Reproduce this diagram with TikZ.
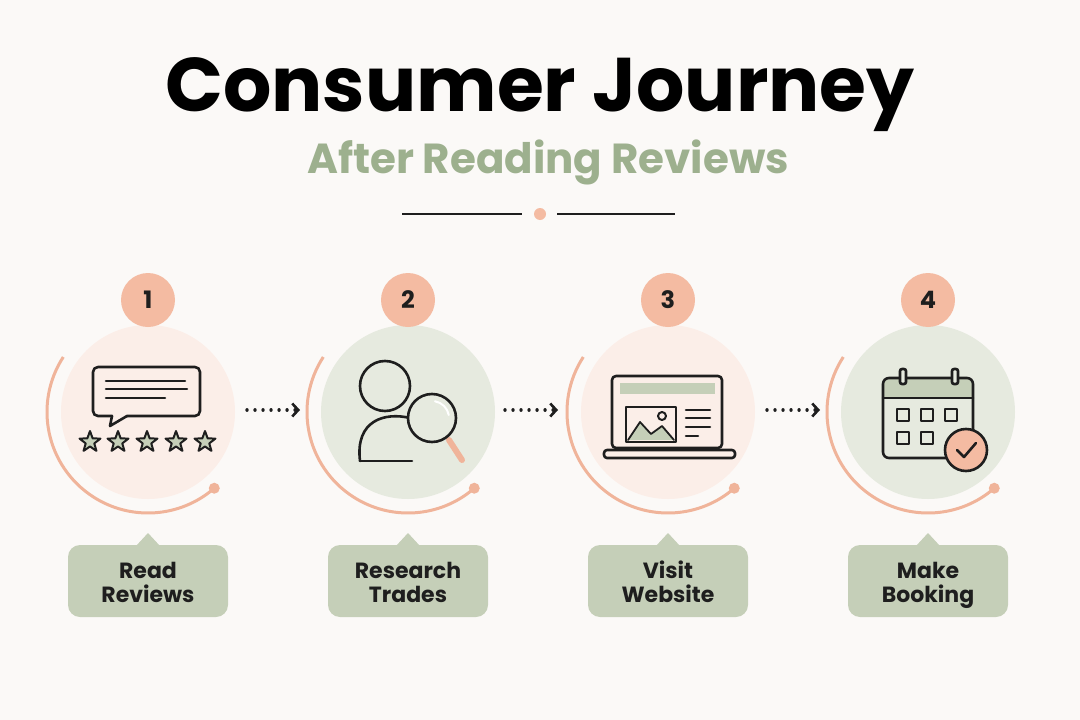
\documentclass[tikz,border=0pt]{standalone}
\usepackage{fontspec}
\setmainfont{Poppins}
\usetikzlibrary{shapes.geometric,arrows.meta}
\definecolor{bg}{HTML}{FBF9F7}
\definecolor{sal}{HTML}{F4BBA2}
\definecolor{salline}{HTML}{F0B49A}
\definecolor{pinkf}{HTML}{FBEEE8}
\definecolor{greenf}{HTML}{E6EADF}
\definecolor{sage}{HTML}{C5CFB8}
\definecolor{sub}{HTML}{9DB08E}
\definecolor{ink}{HTML}{1E1E1E}
\begin{document}
\begin{tikzpicture}[x=1pt,y=-1pt,
  icon/.style={draw=ink,line width=2.6pt,line join=round,line cap=round},
  badge/.style={circle,fill=sal,minimum size=54pt,inner sep=0pt,font=\fontsize{24}{24}\selectfont\bfseries,text=ink},
  label/.style={rounded corners=12pt,fill=sage,minimum width=160pt,minimum height=72pt,align=center,font=\fontsize{22}{26}\selectfont\bfseries,text=ink},
  ring/.style={draw=salline,line width=3pt},
  flow/.style={draw=ink,line width=3.4pt,line cap=round,dash pattern=on 0.01pt off 8pt,-{Straight Barb[length=6pt,width=13pt,line width=2.6pt]}}]
\fill[bg] (0,0) rectangle (1080,720);
\useasboundingbox (0,0) rectangle (1080,720);
\node[font=\fontsize{76}{80}\selectfont\bfseries,text=black] (title) at (540,95) {Consumer Journey};
\node[font=\fontsize{42}{44}\selectfont\bfseries,text=sub] (subtitle) at (548,162) {After Reading Reviews};
\coordinate (l1) at (402,214); \coordinate (l2) at (522,214);
\coordinate (r1) at (557,214); \coordinate (r2) at (675,214);
\draw[ink,line width=2pt] (l1) -- (l2) (r1) -- (r2);
\fill[sal] (540,214) circle (6);
% steps
\foreach \i/\x/\f/\a/\b in {1/148/pinkf/Read/Reviews,2/408/greenf/Research/Trades,3/668/pinkf/Visit/Website,4/928/greenf/Make/Booking}{
  \fill[\f] (\x,412) circle (87);
  \draw[ring] (\x,412) ++(-147:101) arc[start angle=-147,end angle=-311,radius=101];
  \fill[salline] (\x,412) ++(-311:101) circle (5.5);
  \node[badge] (b\i) at (\x,300) {\i};
  \fill[sage] (\x-12,546) -- (\x,533) -- (\x+12,546) -- cycle;
  \node[label,text depth=0pt] (t\i) at (\x,581) {\strut\a\\[-2pt]\strut\b};
}
% arrows
\foreach \s/\x in {1/247,2/505,3/767}{
  \coordinate (a\s) at (\x,410); \coordinate (e\s) at (\x+53,410);
  \draw[flow] (a\s) -- (e\s);
}
% icon 1
\draw[icon,rounded corners=5pt] (112,416) -- (93,416) -- (93,367) -- (200,367) -- (200,416) -- (127,416);
\draw[icon] (112,416) -- (110,426) -- (127,416);
\draw[icon] (106,381) -- (185,381) (106,389) -- (187,389) (106,398) -- (165,398);
\foreach \sx in {90,118,147,176,205}{
  \draw[icon,fill=sage,line width=2pt] (\sx,442) +(-90:11) -- +(-54:4.5) -- +(-18:11) -- +(18:4.5) -- +(54:11) -- +(90:4.5) -- +(126:11) -- +(162:4.5) -- +(198:11) -- +(234:4.5) -- cycle;
}
% icon 2
\draw[icon] (385,386) circle (25);
\draw[icon] (360,461) .. controls (355,420) and (385,412) .. (410,418);
\draw[icon] (360,461) -- (412,461);
\draw[icon,line width=6pt,salline] (449,440) -- (462,460);
\draw[icon,fill=greenf] (432,418) circle (24);
\draw[draw=white,line width=2pt,line cap=round] (432,418) ++(-80:17) arc[start angle=-80,end angle=-10,radius=17];
% icon 3
\draw[icon,rounded corners=4pt,fill=pinkf] (612,376) rectangle (722,448);
\fill[sage] (620,383) rectangle (715,394);
\draw[icon,fill=pinkf] (626,407) rectangle (676,442);
\fill[sage] (628,440) -- (640,422) -- (651,434) -- (662,426) -- (674,440) -- cycle;
\draw[icon,line width=1.8pt] (628,440) -- (640,422) -- (651,434) -- (662,426) -- (674,440);
\draw[icon,line width=2pt] (662,416) circle (4);
\draw[icon] (686,410) -- (710,410) (686,418) -- (710,418) (686,427) -- (710,427) (686,436) -- (698,436);
\draw[icon,rounded corners=3pt] (604,450) rectangle (735,458);
% icon 4
\fill[sage,rounded corners=6pt] (883,378) rectangle (973,400);
\fill[greenf] (883,398) rectangle (973,404);
\draw[icon,rounded corners=6pt] (883,378) rectangle (973,458);
\draw[icon] (883,398) -- (973,398);
\draw[icon,fill=greenf,rounded corners=2pt] (900,369) rectangle (906,384);
\draw[icon,fill=greenf,rounded corners=2pt] (952,369) rectangle (958,384);
\foreach \qx in {897,921,945}{\draw[icon,line width=2.2pt] (\qx,409) rectangle ++(12,12);}
\foreach \qx in {897,921}{\draw[icon,line width=2.2pt] (\qx,432) rectangle ++(12,12);}
\draw[icon,fill=sal] (966,450) circle (21);
\draw[icon] (957,450) -- (964,457) -- (976,443);
\end{tikzpicture}
\end{document}
